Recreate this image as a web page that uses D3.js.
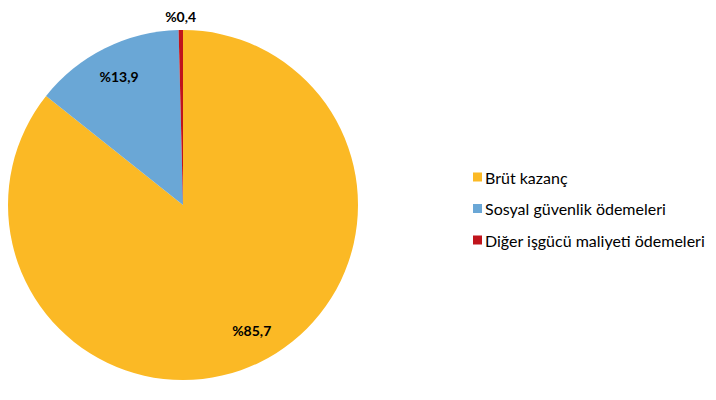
<!DOCTYPE html>
<html>
<head>
<meta charset="utf-8">
<script src="https://cdn.jsdelivr.net/npm/d3@7"></script>
<style>
  body { margin: 0; background: #fff; }
  svg text { font-family: Lato, "Open Sans", sans-serif; }
</style>
</head>
<body>
<div id="chart"></div>
<script>
const categories = ["Brüt kazanç", "Sosyal güvenlik ödemeleri", "Diğer işgücü maliyeti ödemeleri"];
const values = [85.7, 13.9, 0.4];
const labels = ["%85,7", "%13,9", "%0,4"];
const colors = ["#FBB925", "#6AA7D6", "#C0141C"];

const width = 716, height = 400;
const cx = 183, cy = 205, radius = 175;

const svg = d3.select("#chart").append("svg")
  .attr("width", width)
  .attr("height", height);

const pie = d3.pie().sort(null).value(d => d);
const arcs = pie(values);
const arc = d3.arc().innerRadius(0).outerRadius(radius);

const g = svg.append("g").attr("transform", `translate(${cx},${cy})`);

g.selectAll("path.slice")
  .data(arcs)
  .enter()
  .append("path")
  .attr("class", "slice")
  .attr("d", arc)
  .attr("fill", (d, i) => colors[i]);

// labels: inside for big slices, outside for the thin one
const labelPos = d => {
  const a = (d.startAngle + d.endAngle) / 2 - (d.data > 50 ? 0.05 : 0);
  const r = d.data < 2 ? radius * 1.08 : radius * 0.82;
  return [Math.sin(a) * r, -Math.cos(a) * r];
};

g.selectAll("text.lbl")
  .data(arcs)
  .enter()
  .append("text")
  .attr("class", "lbl")
  .attr("x", d => labelPos(d)[0])
  .attr("y", d => labelPos(d)[1])
  .attr("text-anchor", "middle")
  .attr("dominant-baseline", "central")
  .attr("font-size", 14)
  .attr("font-weight", "bold")
  .attr("fill", "#000")
  .text((d, i) => labels[i]);

// legend
const legendY = d3.scalePoint().domain(categories).range([177, 240]);
const legend = svg.append("g").selectAll("g")
  .data(categories)
  .enter()
  .append("g")
  .attr("transform", d => `translate(473, ${legendY(d)})`);

legend.append("rect")
  .attr("x", 0)
  .attr("y", -4.5)
  .attr("width", 9)
  .attr("height", 9)
  .attr("fill", (d, i) => colors[i]);

legend.append("text")
  .attr("x", 12)
  .attr("y", 0)
  .attr("dominant-baseline", "central")
  .attr("font-size", 16)
  .attr("fill", "#000")
  .text(d => d);
</script>
</body>
</html>
